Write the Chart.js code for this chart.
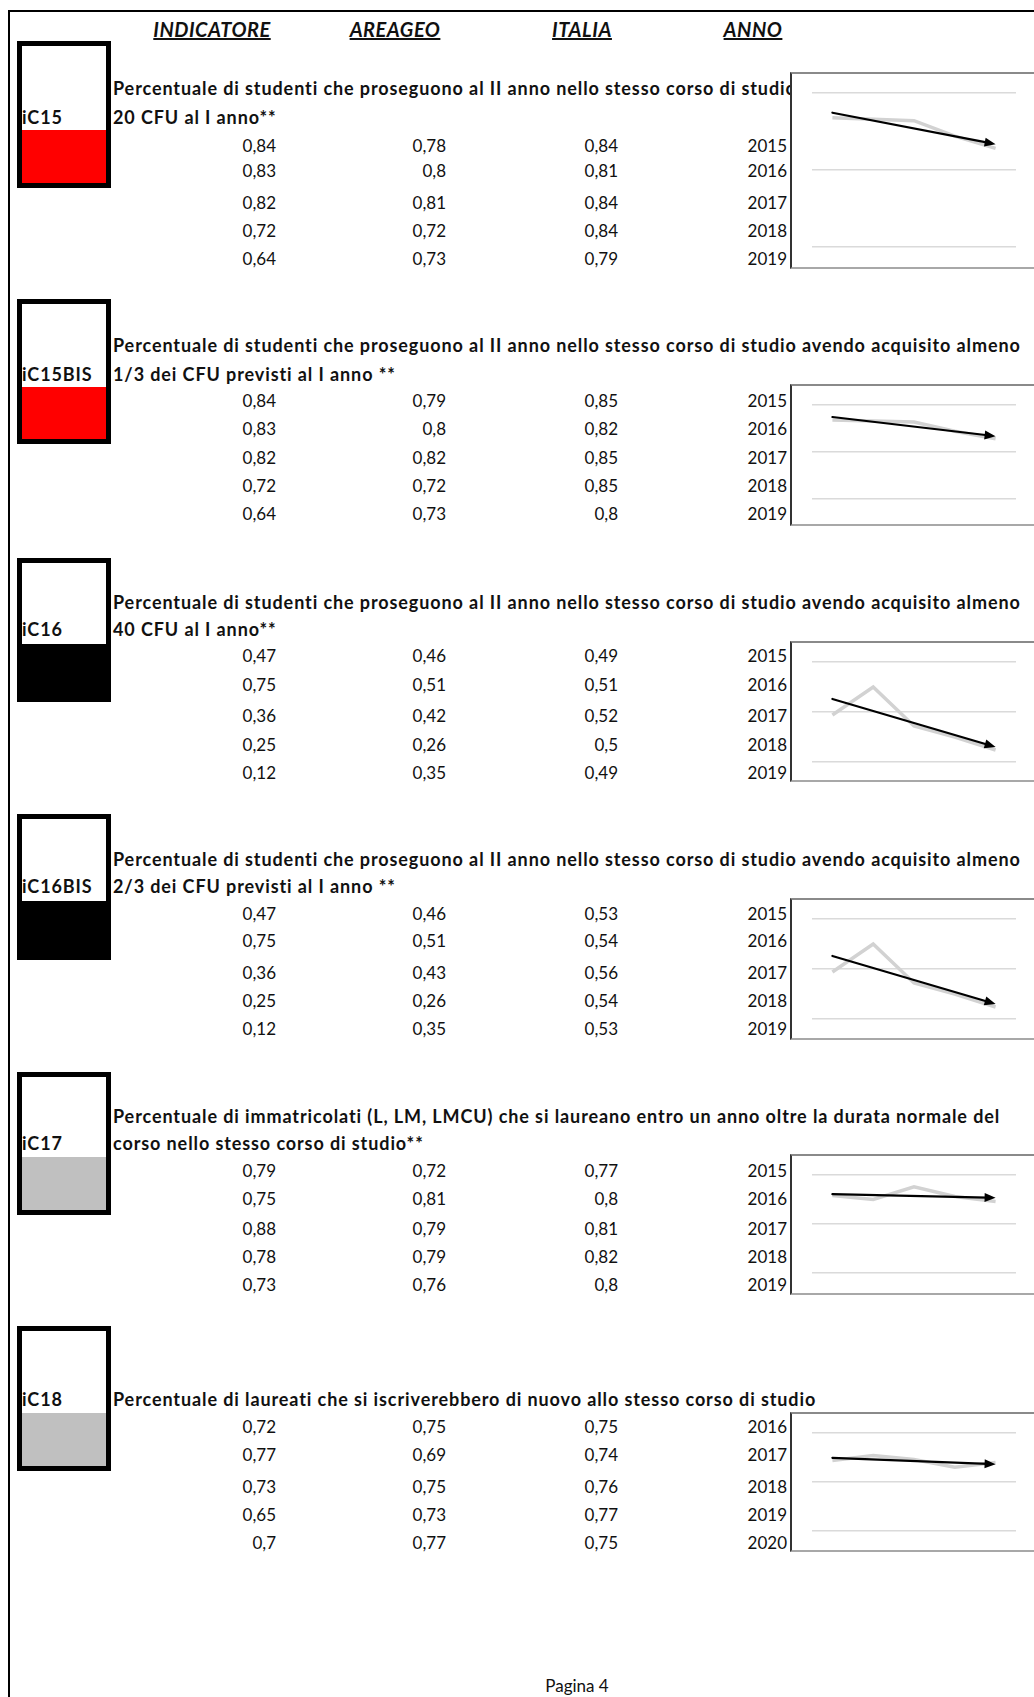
<!DOCTYPE html>
<html lang="it">
<head>
<meta charset="utf-8">
<title>Pagina 4</title>
<script src="https://cdn.jsdelivr.net/npm/chart.js@4.4.1/dist/chart.umd.min.js"></script>
<style>
  html, body { margin: 0; padding: 0; background: #fff; }
  body { width: 1034px; height: 1697px; position: relative; overflow: hidden; font-family: Lato, "Open Sans", sans-serif; color: #111; }
  .frame { position: absolute; left: 8px; top: 10px; width: 1100px; height: 1760px; border: 2px solid #000; }
  .head { position: absolute; top: 17px; font-size: 20px; letter-spacing: 0.5px; font-weight: 700; font-style: italic; text-decoration: underline; transform: translateX(-50%); line-height: 24px; white-space: nowrap; }
  .txt { position: absolute; height: 22px; line-height: 22px; white-space: nowrap; font-size: 17px; }
  .bold { font-weight: 700; font-size: 18px; letter-spacing: 0.9px; }
  .num { width: 80px; text-align: right; }
  .box { position: absolute; left: 17px; width: 84px; border: 5px solid #000; background: #fff; overflow: hidden; }
  .fill { position: absolute; left: 0; right: 0; bottom: 0; }
  .chartbox { position: absolute; left: 790px; width: 260px; border-left: 2px solid #333; border-top: 2px solid #8a8a8a; border-bottom: 2px solid #a8a8a8; background: #fff; }
  .chartbox canvas { position: absolute; left: 0; top: 0; }
  .footer { position: absolute; left: 577px; top: 1675px; font-size: 17px; transform: translateX(-50%); line-height: 22px; }
</style>
</head>
<body>
<div class="frame"></div>
<div id="page"></div>
<div class="footer">Pagina 4</div>
<script>
// column headings
const headers = ['INDICATORE', 'AREAGEO', 'ITALIA', 'ANNO'];

// years
const years = ['2015', '2016', '2017', '2018', '2019'];
const yearsIC18 = ['2016', '2017', '2018', '2019', '2020'];

// indicator codes and descriptions (first iC15 line is cut by its chart in the original)
const codes = ['iC15', 'iC15BIS', 'iC16', 'iC16BIS', 'iC17', 'iC18'];
const titles = [
    ['Percentuale di studenti che proseguono al II anno nello stesso corso di studio', '20 CFU al I anno**'],
    ['Percentuale di studenti che proseguono al II anno nello stesso corso di studio avendo acquisito almeno', '1/3 dei CFU previsti al I anno **'],
    ['Percentuale di studenti che proseguono al II anno nello stesso corso di studio avendo acquisito almeno', '40 CFU al I anno**'],
    ['Percentuale di studenti che proseguono al II anno nello stesso corso di studio avendo acquisito almeno', '2/3 dei CFU previsti al I anno **'],
    ['Percentuale di immatricolati (L, LM, LMCU) che si laureano entro un anno oltre la durata normale del', 'corso nello stesso corso di studio**'],
    ['Percentuale di laureati che si iscriverebbero di nuovo allo stesso corso di studio']
];

// values: indicatore / areageo / italia
const ic15Ind = [0.84, 0.83, 0.82, 0.72, 0.64];
const ic15Area = [0.78, 0.8, 0.81, 0.72, 0.73];
const ic15Ita = [0.84, 0.81, 0.84, 0.84, 0.79];

const ic15bisInd = [0.84, 0.83, 0.82, 0.72, 0.64];
const ic15bisArea = [0.79, 0.8, 0.82, 0.72, 0.73];
const ic15bisIta = [0.85, 0.82, 0.85, 0.85, 0.8];

const ic16Ind = [0.47, 0.75, 0.36, 0.25, 0.12];
const ic16Area = [0.46, 0.51, 0.42, 0.26, 0.35];
const ic16Ita = [0.49, 0.51, 0.52, 0.5, 0.49];

const ic16bisInd = [0.47, 0.75, 0.36, 0.25, 0.12];
const ic16bisArea = [0.46, 0.51, 0.43, 0.26, 0.35];
const ic16bisIta = [0.53, 0.54, 0.56, 0.54, 0.53];

const ic17Ind = [0.79, 0.75, 0.88, 0.78, 0.73];
const ic17Area = [0.72, 0.81, 0.79, 0.79, 0.76];
const ic17Ita = [0.77, 0.8, 0.81, 0.82, 0.8];

const ic18Ind = [0.72, 0.77, 0.73, 0.65, 0.7];
const ic18Area = [0.75, 0.69, 0.75, 0.73, 0.77];
const ic18Ita = [0.75, 0.74, 0.76, 0.77, 0.75];

// sparkline axis
const yMin = 0;
const yMax = 1;
const yStep = 0.5;

const sections = [
    { ind: ic15Ind, area: ic15Area, ita: ic15Ita, years: years },
    { ind: ic15bisInd, area: ic15bisArea, ita: ic15bisIta, years: years },
    { ind: ic16Ind, area: ic16Area, ita: ic16Ita, years: years },
    { ind: ic16bisInd, area: ic16bisArea, ita: ic16bisIta, years: years },
    { ind: ic17Ind, area: ic17Area, ita: ic17Ita, years: years },
    { ind: ic18Ind, area: ic18Area, ita: ic18Ita, years: yearsIC18 }
];

// page layout (pixel positions, colours)
const HEAD_X = [212, 395, 582, 753];
const COL_RIGHT = [276, 446, 618, 787];
const LAYOUT = [
    { box: [41, 188], fill: 130, color: '#ff0000', titleY: [88, 117], rowY: [146, 171, 203, 231, 259], chart: [72, 269, 77] },
    { box: [299, 444], fill: 387, color: '#ff0000', titleY: [345, 374], rowY: [401, 429, 458, 486, 514], chart: [384, 526, 47] },
    { box: [558, 702], fill: 644, color: '#000000', titleY: [602, 629], rowY: [656, 685, 716, 745, 773], chart: [641, 782, 50] },
    { box: [814, 960], fill: 901, color: '#000000', titleY: [859, 886], rowY: [914, 941, 973, 1001, 1029], chart: [898, 1040, 50] },
    { box: [1072, 1215], fill: 1157, color: '#c0c0c0', titleY: [1116, 1143], rowY: [1171, 1199, 1229, 1257, 1285], chart: [1154, 1295, 49] },
    { box: [1326, 1471], fill: 1413, color: '#c0c0c0', titleY: [1399], rowY: [1427, 1455, 1487, 1515, 1543], chart: [1412, 1552, 49] }
];

const page = document.getElementById('page');

function addDiv(cls, text, style) {
    const d = document.createElement('div');
    d.className = cls;
    d.textContent = text;
    Object.assign(d.style, style);
    page.appendChild(d);
    return d;
}

function fmt(v) {
    return String(v).replace('.', ',');
}

// linear trend drawn as an arrow, like the Excel trendline
const trendArrow = {
    id: 'trendArrow',
    afterDatasetsDraw(chart) {
        const vals = chart.data.datasets[0].data;
        const n = vals.length;
        const mx = (n - 1) / 2;
        const my = vals.reduce((s, v) => s + v, 0) / n;
        let sxy = 0, sxx = 0;
        vals.forEach((v, i) => { sxy += (i - mx) * (v - my); sxx += (i - mx) * (i - mx); });
        const slope = sxy / sxx;
        const xs = chart.scales.x, ys = chart.scales.y;
        const x0 = xs.getPixelForValue(0), x1 = xs.getPixelForValue(n - 1);
        const y0 = ys.getPixelForValue(my - slope * mx), y1 = ys.getPixelForValue(my + slope * mx);
        const a = Math.atan2(y1 - y0, x1 - x0);
        const ctx = chart.ctx;
        ctx.save();
        ctx.strokeStyle = '#000';
        ctx.fillStyle = '#000';
        ctx.lineWidth = 2.2;
        ctx.lineCap = 'round';
        ctx.beginPath();
        ctx.moveTo(x0, y0);
        ctx.lineTo(x1 - Math.cos(a) * 8, y1 - Math.sin(a) * 8);
        ctx.stroke();
        ctx.beginPath();
        ctx.moveTo(x1, y1);
        ctx.lineTo(x1 - Math.cos(a) * 11 + Math.sin(a) * 4.5, y1 - Math.sin(a) * 11 - Math.cos(a) * 4.5);
        ctx.lineTo(x1 - Math.cos(a) * 11 - Math.sin(a) * 4.5, y1 - Math.sin(a) * 11 + Math.cos(a) * 4.5);
        ctx.closePath();
        ctx.fill();
        ctx.restore();
    }
};

headers.forEach((h, i) => addDiv('head', h, { left: HEAD_X[i] + 'px' }));

sections.forEach((sec, k) => {
    const lay = LAYOUT[k];

    // coloured indicator box
    const box = addDiv('box', '', { top: lay.box[0] + 'px', height: (lay.box[1] - lay.box[0] - 10) + 'px' });
    const fill = document.createElement('div');
    fill.className = 'fill';
    fill.style.height = (lay.box[1] - 5 - lay.fill) + 'px';
    fill.style.background = lay.color;
    box.appendChild(fill);

    // code label on the last title line
    const labelY = lay.titleY[lay.titleY.length - 1];
    addDiv('txt bold', codes[k], { left: '22px', top: (labelY - 11) + 'px' });

    titles[k].forEach((t, j) => {
        addDiv('txt bold', t, { left: '113px', top: (lay.titleY[j] - 11) + 'px' });
    });

    // table rows
    sec.years.forEach((yr, r) => {
        const top = (lay.rowY[r] - 11) + 'px';
        [fmt(sec.ind[r]), fmt(sec.area[r]), fmt(sec.ita[r]), yr].forEach((txt, c) => {
            addDiv('txt num', txt, { left: (COL_RIGHT[c] - 80) + 'px', top: top });
        });
    });

    // sparkline chart
    const [cTop, cBottom, spacing] = lay.chart;
    const ch = cBottom - cTop - 4;
    const cb = addDiv('chartbox', '', { top: cTop + 'px', height: ch + 'px' });
    const canvas = document.createElement('canvas');
    canvas.width = 240;
    canvas.height = ch;
    canvas.style.width = '240px';
    canvas.style.height = ch + 'px';
    cb.appendChild(canvas);

    new Chart(canvas.getContext('2d'), {
        type: 'line',
        data: {
            labels: sec.years,
            datasets: [{
                data: sec.ind,
                borderColor: '#d2d2d2',
                borderWidth: 3.5,
                pointRadius: 0,
                tension: 0,
                fill: false
            }]
        },
        options: {
            responsive: false,
            animation: false,
            devicePixelRatio: 1,
            events: [],
            layout: { padding: { left: 20, right: 16, top: 19, bottom: ch - 19 - 2 * spacing } },
            plugins: { legend: { display: false }, tooltip: { enabled: false } },
            scales: {
                x: { type: 'category', offset: true, display: false },
                y: {
                    min: yMin, max: yMax,
                    ticks: { display: false, stepSize: yStep },
                    grid: { color: '#dadada', lineWidth: 1.5, drawTicks: false },
                    border: { display: false }
                }
            }
        },
        plugins: [trendArrow]
    });
});
</script>
</body>
</html>
